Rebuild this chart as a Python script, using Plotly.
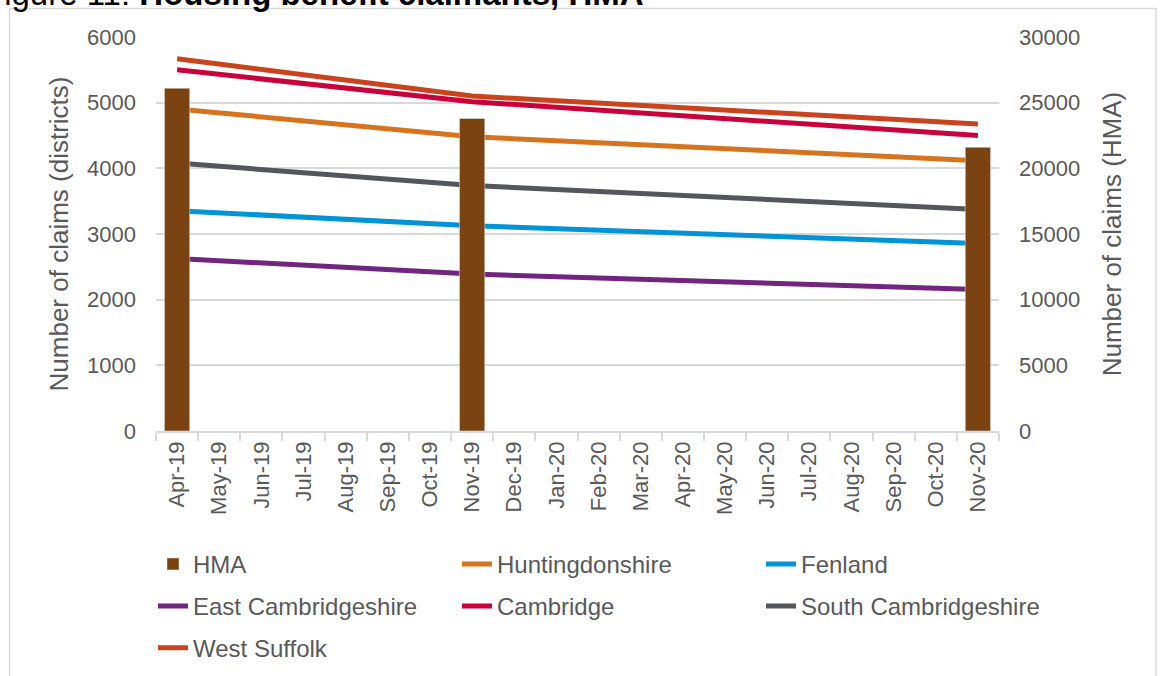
import plotly.graph_objects as go

months = ["Apr-19", "May-19", "Jun-19", "Jul-19", "Aug-19", "Sep-19", "Oct-19",
          "Nov-19", "Dec-19", "Jan-20", "Feb-20", "Mar-20", "Apr-20", "May-20",
          "Jun-20", "Jul-20", "Aug-20", "Sep-20", "Oct-20", "Nov-20"]

N = None
hma = [26100, N, N, N, N, N, N, 23800, N, N, N, N, N, N, N, N, N, N, N, 21600]
huntingdonshire = [4905, N, N, N, N, N, N, 4482, N, N, N, N, N, N, N, N, N, N, N, 4115]
fenland = [3355, N, N, N, N, N, N, 3125, N, N, N, N, N, N, N, N, N, N, N, 2855]
east_cambs = [2627, N, N, N, N, N, N, 2390, N, N, N, N, N, N, N, N, N, N, N, 2155]
cambridge = [5500, N, N, N, N, N, N, 5015, N, N, N, N, N, N, N, N, N, N, N, 4500]
south_cambs = [4080, N, N, N, N, N, N, 3738, N, N, N, N, N, N, N, N, N, N, N, 3375]
west_suffolk = [5668, N, N, N, N, N, N, 5100, N, N, N, N, N, N, N, N, N, N, N, 4675]

lines = [
    ("Huntingdonshire", huntingdonshire, "#D6731E", "legend"),
    ("Fenland", fenland, "#0094D6", "legend"),
    ("East Cambridgeshire", east_cambs, "#71257F", "legend2"),
    ("Cambridge", cambridge, "#C8003C", "legend2"),
    ("South Cambridgeshire", south_cambs, "#53565A", "legend2"),
    ("West Suffolk", west_suffolk, "#C9431E", "legend3"),
]

FONT = "Liberation Sans, Arial, sans-serif"
GREY = "#595959"
GRID = "#D9D9D9"

fig = go.Figure()
fig.add_trace(go.Bar(x=months, y=hma, name="HMA", marker_color="#7B4311",
                     width=0.6, yaxis="y2", legend="legend"))
for name, vals, col, lg in lines:
    fig.add_trace(go.Scatter(x=months, y=vals, name=name, mode="lines",
                             connectgaps=True, line=dict(color=col, width=5),
                             legend=lg))

W, H = 1162, 676
L, R, T, B = 156, 163, 37, 244.5
pw = W - L - R
ph = H - T - B

def px(x):
    return (x - L) / pw

def py(y):
    return (H - B - y) / ph

leg_common = dict(orientation="h", font=dict(family=FONT, size=24, color=GREY),
                  entrywidth=259, entrywidthmode="pixels", xanchor="left",
                  yanchor="middle", bgcolor="rgba(0,0,0,0)", traceorder="normal")

fig.update_layout(
    width=W, height=H,
    margin=dict(l=L, r=R, t=T, b=B, autoexpand=False),
    paper_bgcolor="white", plot_bgcolor="white",
    font=dict(family=FONT, color=GREY),
    showlegend=True,
    xaxis=dict(type="category", showgrid=False, showline=True, linecolor=GRID,
               linewidth=1.5, ticks="outside", tickson="boundaries",
               ticklen=8, tickcolor=GRID, tickwidth=1.5, tickangle=-90,
               tickfont=dict(size=22, color=GREY), automargin=False,
               range=[-0.5, 19.5]),
    yaxis=dict(range=[0, 6000], dtick=1000, showgrid=True, gridcolor=GRID,
               gridwidth=1.5, zeroline=False, showline=False, tickformat="d",
               tickfont=dict(size=22, color=GREY), ticks="", ticklabelstandoff=19,
               title=dict(text="Number of claims (districts)", standoff=10,
                          font=dict(size=26, color=GREY)),
               automargin=False),
    yaxis2=dict(range=[0, 30000], dtick=5000, overlaying="y", side="right",
                showgrid=False, zeroline=False, showline=False, tickformat="d",
                tickfont=dict(size=22, color=GREY), ticks="", ticklabelstandoff=19,
                title=dict(text="Number of claims (HMA)", standoff=23,
                           font=dict(size=26, color=GREY)),
                automargin=False),
    legend=dict(x=px(153), y=py(565), **leg_common),
    legend2=dict(x=px(153), y=py(607), **leg_common),
    legend3=dict(x=px(153), y=py(649), **leg_common),
    shapes=[dict(type="rect", xref="paper", yref="paper",
                 x0=px(9.5), x1=px(1156), y0=py(690), y1=py(8.5),
                 line=dict(color=GRID, width=1.5), fillcolor="rgba(0,0,0,0)",
                 layer="below")],
    annotations=[dict(text="Figure 11: <b>Housing benefit claimants, HMA</b>",
                      xref="paper", yref="paper", x=px(-18), y=py(14),
                      xanchor="left", yanchor="bottom", showarrow=False,
                      font=dict(family=FONT, size=33, color="#000000"))],
)

fig.write_html("out.html", config={"displayModeBar": False},
               post_script="document.body.style.margin='0';document.body.style.overflow='hidden';")
